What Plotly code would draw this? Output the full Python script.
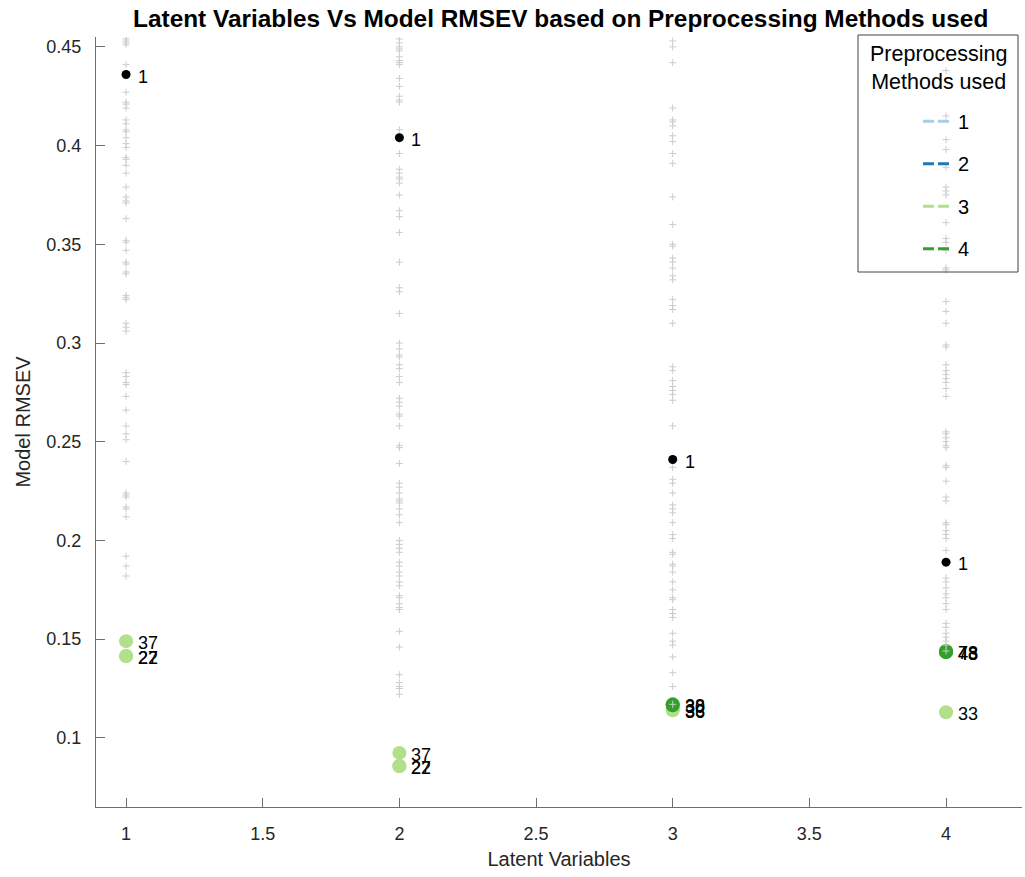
import plotly.graph_objects as go

# Model RMSEV of every model tried, grouped by number of latent variables
all_rmsev_lv1 = [0.454, 0.453, 0.452, 0.451, 0.441, 0.427, 0.422, 0.421, 0.419, 0.413,
                 0.411, 0.408, 0.407, 0.404, 0.401, 0.399, 0.394, 0.393, 0.390, 0.386,
                 0.379, 0.374, 0.372, 0.371, 0.363, 0.352, 0.351, 0.347, 0.341, 0.340,
                 0.336, 0.335, 0.324, 0.323, 0.322, 0.310, 0.308, 0.306, 0.285, 0.283,
                 0.280, 0.279, 0.273, 0.266, 0.258, 0.254, 0.251, 0.240, 0.224, 0.223,
                 0.222, 0.217, 0.216, 0.212, 0.192, 0.187, 0.182]
all_rmsev_lv2 = [0.454, 0.452, 0.450, 0.449, 0.448, 0.445, 0.443, 0.442, 0.441, 0.434,
                 0.430, 0.425, 0.423, 0.422, 0.408, 0.396, 0.388, 0.386, 0.384, 0.383,
                 0.381, 0.375, 0.367, 0.364, 0.356, 0.341, 0.328, 0.326, 0.315, 0.300,
                 0.297, 0.294, 0.293, 0.289, 0.287, 0.283, 0.280, 0.272, 0.270, 0.268,
                 0.264, 0.263, 0.258, 0.248, 0.247, 0.239, 0.229, 0.227, 0.224, 0.221,
                 0.220, 0.219, 0.216, 0.213, 0.209, 0.200, 0.198, 0.196, 0.194, 0.189,
                 0.187, 0.184, 0.182, 0.179, 0.177, 0.172, 0.171, 0.168, 0.166, 0.165,
                 0.154, 0.146, 0.132, 0.128, 0.126, 0.125, 0.122]
all_rmsev_lv3 = [0.453, 0.450, 0.442, 0.419, 0.413, 0.412, 0.410, 0.405, 0.402, 0.396,
                 0.391, 0.374, 0.360, 0.350, 0.349, 0.343, 0.341, 0.338, 0.334, 0.332,
                 0.322, 0.319, 0.317, 0.310, 0.288, 0.286, 0.281, 0.278, 0.276, 0.274,
                 0.271, 0.258, 0.237, 0.231, 0.229, 0.224, 0.218, 0.216, 0.214, 0.209,
                 0.203, 0.201, 0.194, 0.193, 0.188, 0.187, 0.184, 0.179, 0.175, 0.171,
                 0.170, 0.165, 0.163, 0.161, 0.153, 0.149, 0.147, 0.141, 0.133, 0.126,
                 0.117]
all_rmsev_lv4 = [0.438, 0.415, 0.403, 0.398, 0.389, 0.379, 0.377, 0.375, 0.361, 0.353,
                 0.351, 0.347, 0.338, 0.337, 0.321, 0.316, 0.310, 0.299, 0.298, 0.289,
                 0.286, 0.284, 0.282, 0.280, 0.277, 0.273, 0.255, 0.254, 0.252, 0.250,
                 0.248, 0.247, 0.238, 0.237, 0.230, 0.222, 0.220, 0.209, 0.208, 0.205,
                 0.203, 0.201, 0.195, 0.181, 0.179, 0.176, 0.173, 0.171, 0.168, 0.165,
                 0.158, 0.156, 0.153, 0.151, 0.149, 0.147, 0.144]

# Models without preprocessing (method 1), one per latent-variable count
base_lv = [1, 2, 3, 4]
base_rmsev = [0.436, 0.404, 0.241, 0.189]
base_labels = ["1", "1", "1", "1"]

# Best models using preprocessing method 3
m3_lv = [1, 1, 1, 2, 2, 2, 3, 3, 4]
m3_rmsev = [0.149, 0.1415, 0.1415, 0.0924, 0.0858, 0.0858, 0.1145, 0.114, 0.113]
m3_labels = ["37", "22", "27", "37", "22", "27", "33", "36", "33"]

# Best models using preprocessing method 4
m4_lv = [3, 3, 4, 4, 4]
m4_rmsev = [0.117, 0.1165, 0.144, 0.1435, 0.1435]
m4_labels = ["38", "30", "78", "48", "43"]

# Legend entries
method_names = ["1", "2", "3", "4"]
method_colors = ["#a6cee3", "#1f78b4", "#b2df8a", "#33a02c"]

FONT = "Liberation Sans, Arial, sans-serif"
TXT = "#262626"
AXIS = "#6e6e6e"

fig = go.Figure()

# best preprocessed models (drawn beneath the grey cloud)
fig.add_trace(go.Scatter(x=m3_lv, y=m3_rmsev, mode="markers",
                         marker=dict(color=method_colors[2], size=14),
                         showlegend=False, hoverinfo="x+y"))
fig.add_trace(go.Scatter(x=m4_lv, y=m4_rmsev, mode="markers",
                         marker=dict(color=method_colors[3], size=14),
                         showlegend=False, hoverinfo="x+y"))

# grey cloud of all models
all_groups = [all_rmsev_lv1, all_rmsev_lv2, all_rmsev_lv3, all_rmsev_lv4]
cloud_x, cloud_y = [], []
for lv, vals in zip(base_lv, all_groups):
    cloud_x += [lv] * len(vals)
    cloud_y += vals
fig.add_trace(go.Scatter(x=cloud_x, y=cloud_y, mode="markers",
                         marker=dict(symbol="cross-thin", size=5,
                                     line=dict(color="#cccccc", width=1)),
                         showlegend=False, hoverinfo="x+y"))

# unpreprocessed models
fig.add_trace(go.Scatter(x=base_lv, y=base_rmsev, mode="markers",
                         marker=dict(color="black", size=9),
                         showlegend=False, hoverinfo="x+y"))

# legend entries
for name, col in zip(method_names, method_colors):
    fig.add_trace(go.Scatter(x=[None], y=[None], mode="lines", name=name,
                             legendgroup=name,
                             line=dict(color=col, width=3, dash="11px,4px")))

# point labels
for xs, ys, labs in [(base_lv, base_rmsev, base_labels),
                     (m3_lv, m3_rmsev, m3_labels),
                     (m4_lv, m4_rmsev, m4_labels)]:
    for x, y, t in zip(xs, ys, labs):
        fig.add_annotation(x=x, y=y, text=t, showarrow=False, xanchor="left",
                           yanchor="middle", xshift=10, yshift=-2,
                           font=dict(family=FONT, size=18, color="black"))

# legend heading and frame
fig.add_annotation(xref="paper", yref="paper", x=0.9093, y=0.9597,
                   xanchor="center", yanchor="middle", showarrow=False,
                   text="Preprocessing<br>Methods used",
                   font=dict(family=FONT, size=21.5, color="black"))
fig.add_shape(type="rect", xref="paper", yref="paper",
              x0=0.8229, x1=0.9957, y0=0.6948, y1=1.0026,
              line=dict(color="#404040", width=1), fillcolor="rgba(0,0,0,0)")

fig.update_layout(
    width=1025, height=877,
    margin=dict(l=96, r=3, t=37, b=70),
    paper_bgcolor="white", plot_bgcolor="white",
    font=dict(family=FONT, color=TXT),
    title=dict(text="<b>Latent Variables Vs Model RMSEV based on Preprocessing Methods used</b>",
               x=0.547, xanchor="center", y=0.979, yanchor="middle",
               font=dict(family=FONT, size=24.4, color="black")),
    legend=dict(x=0.8877, xanchor="left", y=0.916, yanchor="top",
                bgcolor="rgba(0,0,0,0)", borderwidth=0,
                font=dict(family=FONT, size=20, color="black"),
                tracegroupgap=13.5, itemwidth=30),
    showlegend=True,
)

fig.update_xaxes(range=[0.89, 4.278], tickvals=[1, 1.5, 2, 2.5, 3, 3.5, 4],
                 ticktext=["1", "1.5", "2", "2.5", "3", "3.5", "4"],
                 ticks="inside", ticklen=9, tickcolor=AXIS, ticklabelstandoff=10,
                 showline=True, linecolor=AXIS, linewidth=1,
                 showgrid=False, zeroline=False,
                 tickfont=dict(family=FONT, size=18, color=TXT),
                 title=dict(text="Latent Variables", standoff=9,
                            font=dict(family=FONT, size=20, color=TXT)))
fig.update_yaxes(range=[0.065, 0.455],
                 tickvals=[0.1, 0.15, 0.2, 0.25, 0.3, 0.35, 0.4, 0.45],
                 ticktext=["0.1", "0.15", "0.2", "0.25", "0.3", "0.35", "0.4", "0.45"],
                 ticks="inside", ticklen=9, tickcolor=AXIS, ticklabelstandoff=10,
                 showline=True, linecolor=AXIS, linewidth=1,
                 showgrid=False, zeroline=False,
                 tickfont=dict(family=FONT, size=18, color=TXT),
                 title=dict(text="Model RMSEV", standoff=10,
                            font=dict(family=FONT, size=20, color=TXT)))

fig.write_html("out.html")
